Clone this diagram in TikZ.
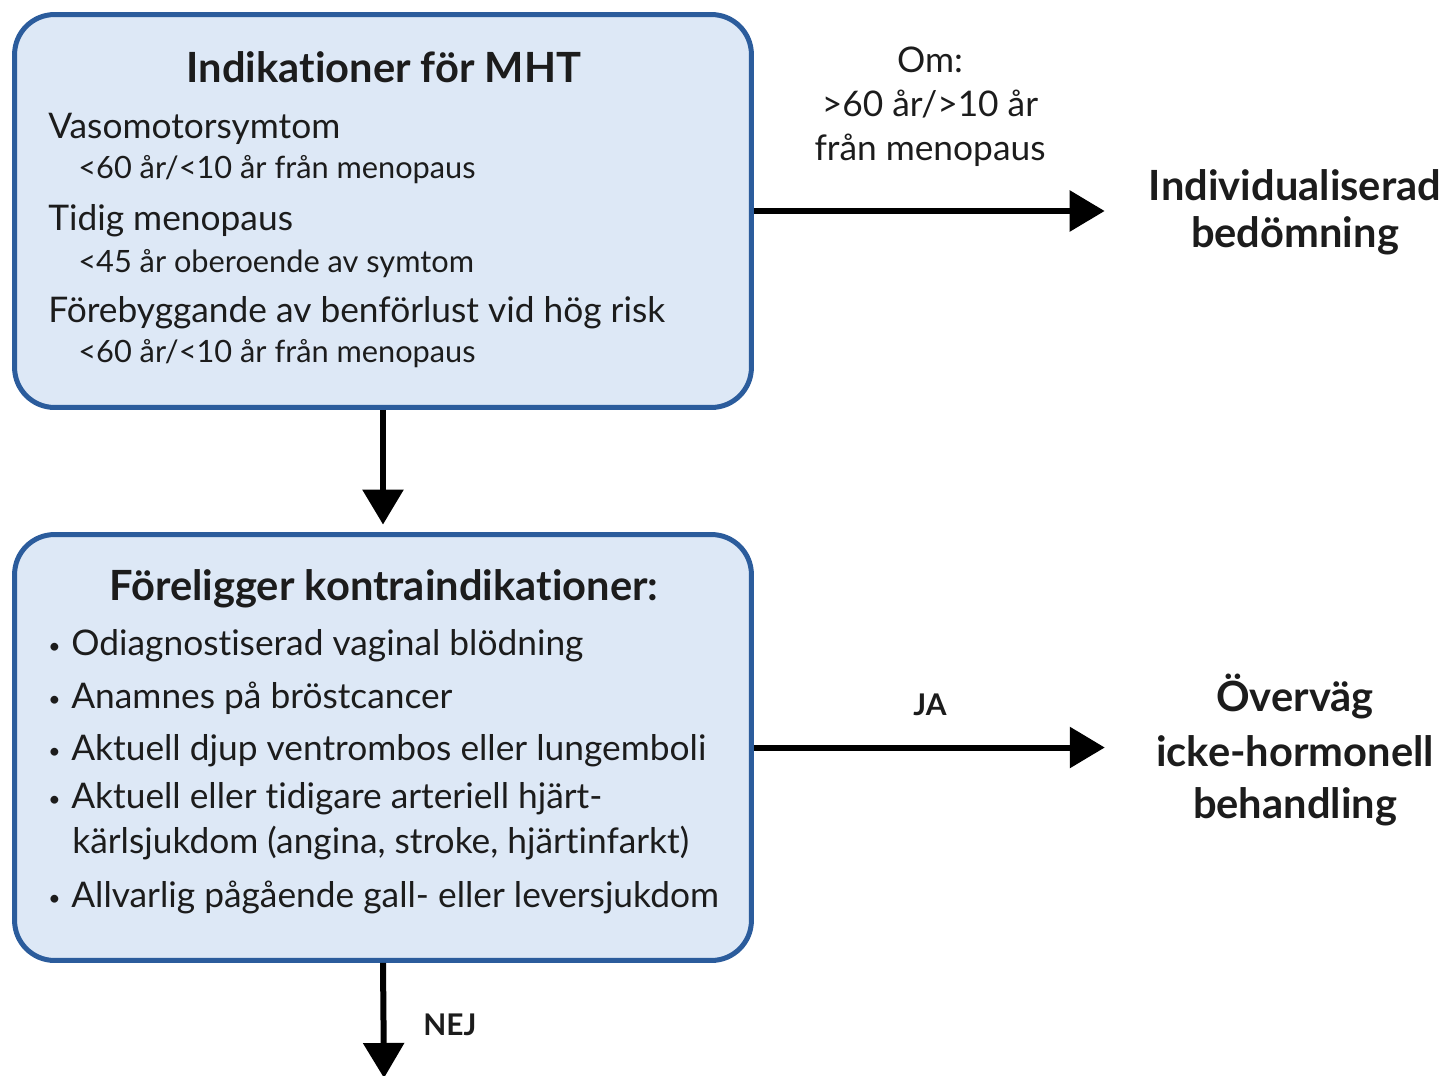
\documentclass[tikz,border=0pt]{standalone}
\usepackage{fontspec}
\setmainfont[Ligatures=NoCommon]{Lato}
\usetikzlibrary{arrows.meta}
\definecolor{ramblaa}{HTML}{2B5C9C}
\definecolor{fyllblaa}{HTML}{DDE8F6}
\definecolor{textsvart}{HTML}{1C1C1C}
\newcommand{\stor}{\fontsize{23.7}{27}\selectfont\bfseries}
\newcommand{\mellan}{\fontsize{20.1}{25}\selectfont}
\newcommand{\liten}{\fontsize{17.5}{20}\selectfont}
\newcommand{\pkt}[1]{\makebox[0.46cm][l]{\raisebox{0.1ex}{\fontsize{12}{12}\selectfont\textbullet}}#1}
\begin{document}
\begin{tikzpicture}[x=0.02cm,y=-0.02cm,
	ruta/.style={draw=ramblaa,fill=fyllblaa,line width=0.1cm,rounded corners=0.8cm,minimum width=14.74cm},
	txt/.style={inner sep=0,anchor=base west,text=textsvart},
	mitt/.style={inner sep=0,anchor=base,text=textsvart,align=center},
	pil/.style={line width=0.12cm,-{Triangle[length=0.7cm,width=0.8cm]}}]
	\useasboundingbox (0,0) rectangle (1445,1076);

	\node[ruta,minimum height=7.86cm] (box1) at (383,211) {};
	\node[ruta,minimum height=8.52cm] (box2) at (383,747.5) {};

	\node[mitt,font=\stor] (rub1) at (384,82) {Indikationer för MHT};
	\node[txt,font=\mellan] (vaso) at (48,138) {Vasomotorsymtom};
	\node[txt,font=\liten] (vasoa) at (78,178) {<60 år/<10 år från menopaus};
	\node[txt,font=\mellan] (tidig) at (48,230) {Tidig menopaus};
	\node[txt,font=\liten] (tidiga) at (78,272) {<45 år oberoende av symtom};
	\node[txt,font=\mellan] (ben) at (48,322) {Förebyggande av benförlust vid hög risk};
	\node[txt,font=\liten] (bena) at (78,362) {<60 år/<10 år från menopaus};

	\node[mitt,font=\stor] (rub2) at (384,600) {Föreligger kontraindikationer:};
	\node[txt,font=\mellan] (k1) at (48,655) {\pkt{Odiagnostiserad vaginal blödning}};
	\node[txt,font=\mellan] (k2) at (48,708) {\pkt{Anamnes på bröstcancer}};
	\node[txt,font=\mellan] (k3) at (48,760) {\pkt{Aktuell djup ventrombos eller lungemboli}};
	\node[txt,font=\mellan] (k4) at (48,808) {\pkt{Aktuell eller tidigare arteriell hjärt-}};
	\node[txt,font=\mellan] (k4b) at (72,853) {kärlsjukdom (angina, stroke, hjärtinfarkt)};
	\node[txt,font=\mellan] (k5) at (48,907) {\pkt{Allvarlig pågående gall- eller leversjukdom}};

	\node[mitt,font=\mellan] (om) at (930,160) {Om:\\>60 år/>10 år\\från menopaus};
	\node[mitt,font=\stor,inner xsep=0.88cm] (indiv) at (1295,247) {Individualiserad\\[-0.5pt]bedömning};
	\node[mitt,font=\fontsize{17}{20}\selectfont\bfseries] (ja) at (930,715) {JA};
	\node[mitt,font=\stor,inner xsep=1.02cm] (overvag) at (1295,818) {Överväg\\[4pt]icke-hormonell\\[2.5pt]behandling};
	\node[txt,font=\fontsize{17}{20}\selectfont\bfseries] (nej) at (423,1035) {NEJ};
	\coordinate (slut) at (384,1078);

	\draw[pil] (box1.east) -- (box1.east -| indiv.west);
	\draw[pil,shorten >=0.15cm] (box1.south) -- (box2.north);
	\draw[pil] (box2.east) -- (box2.east -| overvag.west);
	\draw[pil] (box2.south) -- (slut);
\end{tikzpicture}
\end{document}
